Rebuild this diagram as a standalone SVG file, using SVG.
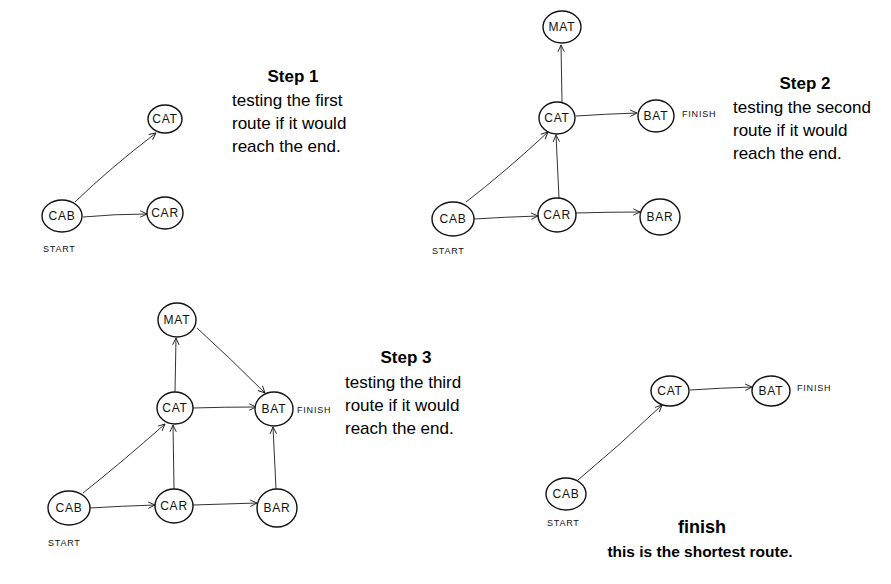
<svg xmlns="http://www.w3.org/2000/svg" width="891" height="584" viewBox="0 0 891 584">
<defs>
<marker id="arr" viewBox="0 0 10 10" refX="9.5" refY="5" markerWidth="8" markerHeight="8" markerUnits="userSpaceOnUse" orient="auto">
<path d="M1,1 L9.5,5 L1,9" fill="none" stroke="#222" stroke-width="1.2"/>
</marker>
<style>
.n ellipse{fill:#fff;stroke:#111;stroke-width:1.4}
.n text{font-family:"Liberation Sans",Arial,sans-serif;font-size:12px;letter-spacing:0.8px;text-anchor:middle;fill:#111}
.lbl{font-family:"Liberation Sans",Arial,sans-serif;font-size:9px;letter-spacing:0.8px;fill:#111}
.e path{fill:none;stroke:#333;stroke-width:1;marker-end:url(#arr)}
.h{font-family:"Liberation Sans",Arial,sans-serif;font-size:17px;font-weight:bold;text-anchor:middle;fill:#000}
.t{font-family:"Liberation Sans",Arial,sans-serif;font-size:17px;fill:#000}
.b{font-family:"Liberation Sans",Arial,sans-serif;font-weight:bold;text-anchor:middle;fill:#000}
</style>
</defs>
<rect width="891" height="584" fill="#fff"/>

<!-- Panel 1 -->
<g id="connectors1" class="e">
<path d="M75,202 Q110,168 156,133"/>
<path d="M83,217 Q115,214 147,214"/>
</g>
<g id="p1-cab" class="n"><ellipse cx="62" cy="216" rx="20" ry="16"/><text x="62" y="220">CAB</text></g>
<g id="p1-cat" class="n"><ellipse cx="165" cy="119" rx="17" ry="14"/><text x="165" y="123">CAT</text></g>
<g id="p1-car" class="n"><ellipse cx="165" cy="213" rx="18" ry="16"/><text x="165" y="217">CAR</text></g>
<text class="lbl" x="43" y="252">START</text>
<text class="h" x="293" y="82">Step 1</text>
<text class="t" x="232" y="106">testing the first</text>
<text class="t" x="232" y="129">route if it would</text>
<text class="t" x="232" y="152">reach the end.</text>

<!-- Panel 2 -->
<g id="connectors2" class="e">
<path d="M562,102 L561,45"/>
<path d="M576,116 Q605,114 637,113"/>
<path d="M466,202 Q505,172 548,132"/>
<path d="M559,198 L556,135"/>
<path d="M474,219 Q505,217 538,216"/>
<path d="M576,213 Q608,212 640,212"/>
</g>
<g id="p2-mat" class="n"><ellipse cx="562" cy="27" rx="19" ry="16"/><text x="562" y="31">MAT</text></g>
<g id="p2-cat" class="n"><ellipse cx="557" cy="118" rx="18" ry="16"/><text x="557" y="122">CAT</text></g>
<g id="p2-bat" class="n"><ellipse cx="656" cy="116" rx="18" ry="16"/><text x="656" y="120">BAT</text></g>
<g id="p2-cab" class="n"><ellipse cx="453" cy="219" rx="21" ry="17"/><text x="453" y="223">CAB</text></g>
<g id="p2-car" class="n"><ellipse cx="557" cy="215" rx="19" ry="17"/><text x="557" y="219">CAR</text></g>
<g id="p2-bar" class="n"><ellipse cx="660" cy="217" rx="20" ry="18"/><text x="660" y="221">BAR</text></g>
<text class="lbl" x="682" y="117">FINISH</text>
<text class="lbl" x="432" y="254">START</text>
<text class="h" x="805" y="89">Step 2</text>
<text class="t" x="733" y="113">testing the second</text>
<text class="t" x="733" y="136">route if it would</text>
<text class="t" x="733" y="159">reach the end.</text>

<!-- Panel 3 -->
<g id="connectors3" class="e">
<path d="M175,392 L176,338"/>
<path d="M197,328 Q230,358 265,393"/>
<path d="M193,408 Q224,407 256,407"/>
<path d="M83,493 Q122,462 165,424"/>
<path d="M174,489 L173,425"/>
<path d="M90,508 Q122,506 155,505"/>
<path d="M193,505 Q225,504 257,503"/>
<path d="M276,489 L273,427"/>
</g>
<g id="p3-mat" class="n"><ellipse cx="177" cy="320" rx="19" ry="17"/><text x="177" y="324">MAT</text></g>
<g id="p3-cat" class="n"><ellipse cx="175" cy="408" rx="18" ry="16"/><text x="175" y="412">CAT</text></g>
<g id="p3-bat" class="n"><ellipse cx="274" cy="409" rx="19" ry="17"/><text x="274" y="413">BAT</text></g>
<g id="p3-cab" class="n"><ellipse cx="69" cy="508" rx="21" ry="17"/><text x="69" y="512">CAB</text></g>
<g id="p3-car" class="n"><ellipse cx="174" cy="506" rx="19" ry="17"/><text x="174" y="510">CAR</text></g>
<g id="p3-bar" class="n"><ellipse cx="277" cy="508" rx="20" ry="19"/><text x="277" y="512">BAR</text></g>
<text class="lbl" x="297" y="413">FINISH</text>
<text class="lbl" x="48" y="546">START</text>
<text class="h" x="406" y="363">Step 3</text>
<text class="t" x="345" y="388">testing the third</text>
<text class="t" x="345" y="411">route if it would</text>
<text class="t" x="345" y="434">reach the end.</text>

<!-- Panel 4 -->
<g id="connectors4" class="e">
<path d="M690,390 Q720,388 752,387"/>
<path d="M578,480 Q620,445 662,405"/>
</g>
<g id="p4-cat" class="n"><ellipse cx="670" cy="391" rx="19" ry="15"/><text x="670" y="395">CAT</text></g>
<g id="p4-bat" class="n"><ellipse cx="771" cy="391" rx="19" ry="15"/><text x="771" y="395">BAT</text></g>
<g id="p4-cab" class="n"><ellipse cx="566" cy="494" rx="20" ry="16"/><text x="566" y="498">CAB</text></g>
<text class="lbl" x="797" y="391">FINISH</text>
<text class="lbl" x="547" y="526">START</text>
<text class="b" x="702" y="533" font-size="18">finish</text>
<text class="b" x="700" y="557" font-size="15.5">this is the shortest route.</text>
</svg>
